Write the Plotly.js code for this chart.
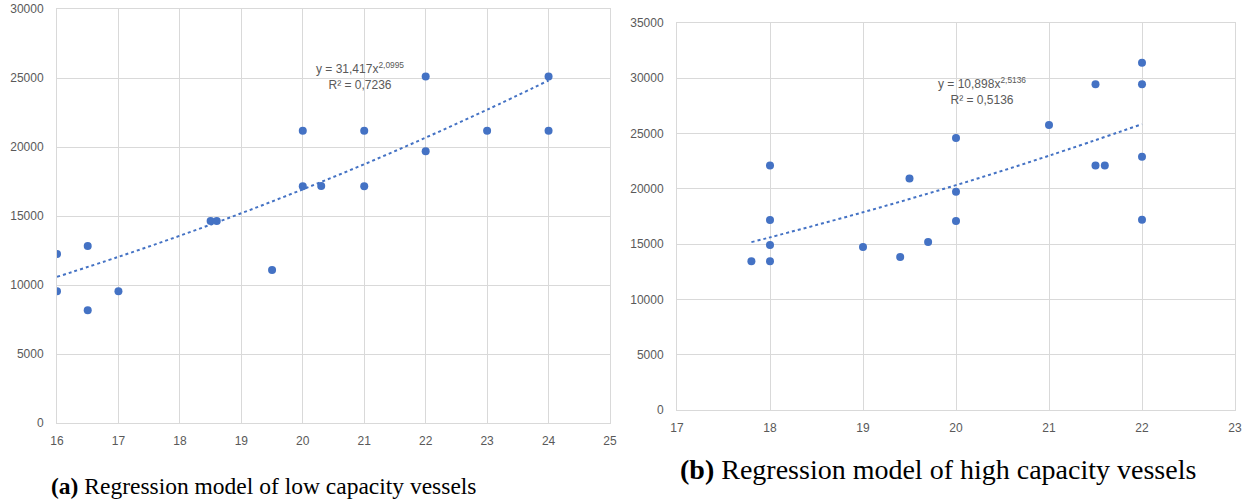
<!DOCTYPE html>
<html>
<head>
<meta charset="utf-8">
<script src="https://cdn.plot.ly/plotly-3.0.1.min.js"></script>
<style>
html,body{margin:0;padding:0;background:#fff;}
#chart{width:1246px;height:503px;}
</style>
</head>
<body>
<div id="chart"></div>
<script>
// ---- Data: (a) low capacity vessels ----
const lowX = [16, 16, 16.5, 16.5, 17, 18.5, 18.6, 19.5, 20, 20, 20.3, 21, 21, 22, 22, 23, 24, 24];
const lowY = [12250, 9550, 12830, 8170, 9550, 14640, 14640, 11090, 21170, 17160, 17170, 21170, 17160, 25100, 19700, 21170, 25100, 21170];
const lowTrendX = [16, 17, 18, 19, 20, 21, 22, 23, 24];
const lowTrendY = [10590, 12040, 13570, 15200, 16930, 18750, 20680, 22700, 24820];
const lowEquation = "y = 31,417x<sup>2,0995</sup><br>R² = 0,7236";
const lowCaption = "<b>(a)</b> Regression model of low capacity vessels";

// ---- Data: (b) high capacity vessels ----
const highX = [17.8, 18, 18, 18, 18, 19, 19.4, 19.5, 19.7, 20, 20, 20, 21, 21.5, 21.5, 21.6, 22, 22, 22, 22];
const highY = [13440, 13440, 14900, 17170, 22100, 14730, 13830, 20930, 15180, 24570, 19730, 17080, 25750, 29430, 22100, 22100, 31390, 29430, 22890, 17190];
const highTrendX = [17.8, 18, 19, 20, 21, 22];
const highTrendY = [15170, 15600, 17870, 20320, 22980, 25830];
const highEquation = "y = 10,898x<sup>2,5136</sup><br>R² = 0,5136";
const highCaption = "<b>(b)</b> Regression model of high capacity vessels";

const blue = "#4472C4";
const grid = "#d9d9d9";
const tickFont = {family: "Liberation Sans, Arial, sans-serif", size: 12, color: "#595959"};

const W = 1246, H = 503;
function px(a, b) { return [a / W, b / W]; }
function py(top, bottom) { return [1 - bottom / H, 1 - top / H]; }

const traces = [
  {x: lowX, y: lowY, type: "scatter", mode: "markers", xaxis: "x", yaxis: "y",
   marker: {color: blue, size: 8}, hoverinfo: "x+y"},
  {x: lowTrendX, y: lowTrendY, type: "scatter", mode: "lines", xaxis: "x", yaxis: "y",
   line: {color: blue, width: 2, dash: "dot", shape: "spline"}, hoverinfo: "skip"},
  {x: highX, y: highY, type: "scatter", mode: "markers", xaxis: "x2", yaxis: "y2",
   marker: {color: blue, size: 8}, hoverinfo: "x+y"},
  {x: highTrendX, y: highTrendY, type: "scatter", mode: "lines", xaxis: "x2", yaxis: "y2",
   line: {color: blue, width: 2, dash: "dot", shape: "spline"}, hoverinfo: "skip"}
];

const axisCommon = {
  showgrid: true, gridcolor: grid, gridwidth: 1,
  zeroline: false, showline: true, linecolor: grid, linewidth: 1, mirror: true,
  ticks: "", tickfont: tickFont, fixedrange: true
};

const layout = {
  width: W, height: H,
  margin: {l: 0, r: 0, t: 0, b: 0},
  paper_bgcolor: "#fff", plot_bgcolor: "#fff",
  showlegend: false,
  xaxis: Object.assign({}, axisCommon, {domain: px(57, 610), range: [16, 25], dtick: 1, anchor: "y", ticklabelstandoff: 7}),
  yaxis: Object.assign({}, axisCommon, {domain: py(9, 423), range: [0, 30000], dtick: 5000, tickformat: "d", anchor: "x", ticklabelstandoff: 10}),
  xaxis2: Object.assign({}, axisCommon, {domain: px(677, 1235), range: [17, 23], dtick: 1, anchor: "y2", ticklabelstandoff: 7}),
  yaxis2: Object.assign({}, axisCommon, {domain: py(22.7, 410), range: [0, 35000], dtick: 5000, tickformat: "d", anchor: "x2", ticklabelstandoff: 10}),
  annotations: [
    {xref: "x", yref: "y", x: 20.93, y: 25160, text: lowEquation, showarrow: false,
     font: {family: "Liberation Sans, Arial, sans-serif", size: 12, color: "#595959"}, align: "center"},
    {xref: "x2", yref: "y2", x: 20.28, y: 28870, text: highEquation, showarrow: false,
     font: {family: "Liberation Sans, Arial, sans-serif", size: 12, color: "#595959"}, align: "center"},
    {xref: "paper", yref: "paper", x: 264 / W, y: 1 - 486 / H, text: lowCaption, showarrow: false,
     xanchor: "center", yanchor: "middle",
     font: {family: "Liberation Serif, Times New Roman, serif", size: 23.5, color: "#000"}},
    {xref: "paper", yref: "paper", x: 938 / W, y: 1 - 469 / H, text: highCaption, showarrow: false,
     xanchor: "center", yanchor: "middle",
     font: {family: "Liberation Serif, Times New Roman, serif", size: 28, color: "#000"}}
  ]
};

Plotly.newPlot("chart", traces, layout, {displayModeBar: false, staticPlot: true});
</script>
</body>
</html>
